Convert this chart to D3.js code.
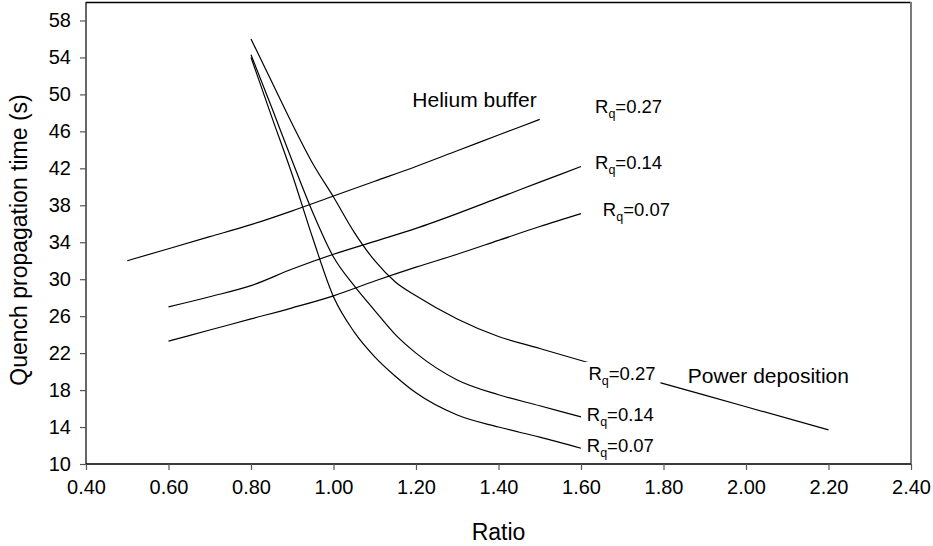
<!DOCTYPE html>
<html>
<head>
<meta charset="utf-8">
<script src="https://cdn.jsdelivr.net/npm/d3@7"></script>
<style>
  html, body { margin: 0; padding: 0; background: #fff; }
  svg { display: block; font-family: "Liberation Sans", Arial, sans-serif; }
</style>
</head>
<body>
<svg id="chart" width="933" height="546"></svg>
<script>
// Helium buffer curves (rising)
const heliumRatio027 = [0.5, 0.6, 0.7, 0.8, 0.9, 1.0, 1.1, 1.2, 1.3, 1.4, 1.5];
const heliumTime027  = [32.0, 33.3, 34.6, 35.9, 37.4, 39.0, 40.6, 42.2, 43.9, 45.6, 47.3];
const heliumRatio    = [0.6, 0.7, 0.8, 0.9, 1.0, 1.1, 1.2, 1.3, 1.4, 1.5, 1.6];
const heliumTime014  = [27.0, 28.1, 29.3, 31.1, 32.7, 34.1, 35.5, 37.1, 38.8, 40.5, 42.2];
const heliumTime007  = [23.3, 24.5, 25.7, 26.9, 28.2, 29.8, 31.3, 32.7, 34.2, 35.7, 37.1];

// Power deposition curves (falling)
const powerRatio027 = [0.8, 0.85, 0.9, 0.95, 1.0, 1.05, 1.1, 1.15, 1.2, 1.3, 1.4, 1.5, 1.6, 1.8, 2.0, 2.2];
const powerTime027  = [56.0, 51.4, 46.8, 42.5, 38.9, 35.1, 32.0, 29.7, 28.2, 25.7, 23.8, 22.5, 21.2, 18.7, 16.2, 13.7];
const powerRatio    = [0.8, 0.85, 0.9, 0.95, 1.0, 1.05, 1.1, 1.15, 1.2, 1.3, 1.4, 1.5, 1.6];
const powerTime014  = [54.3, 48.6, 42.8, 37.2, 32.4, 29.3, 26.6, 24.0, 22.0, 19.1, 17.5, 16.3, 15.1];
const powerTime007  = [54.0, 47.6, 41.3, 34.4, 28.1, 24.3, 21.6, 19.5, 17.7, 15.3, 14.0, 12.9, 11.7];

// Axis ticks
const xTicks = [0.4, 0.6, 0.8, 1.0, 1.2, 1.4, 1.6, 1.8, 2.0, 2.2, 2.4];
const yTicks = [10, 14, 18, 22, 26, 30, 34, 38, 42, 46, 50, 54, 58];

// Curve labels: Rq value, text anchor (left, baseline) in data units
const curveLabels = [
  { q: "0.27", at: [1.634, 48.0] },
  { q: "0.14", at: [1.634, 41.9] },
  { q: "0.07", at: [1.653, 36.85] },
  { q: "0.27", at: [1.618, 19.1], masked: true },
  { q: "0.14", at: [1.614, 14.6] },
  { q: "0.07", at: [1.614, 11.25] }
];
const groupLabels = [
  { text: "Helium buffer",    at: [1.191, 48.67] },
  { text: "Power deposition", at: [1.859, 18.8] }
];

const svg = d3.select("#chart");
const plotLeft = 86, plotRight = 911, plotTop = 2, plotBottom = 464;

const x = d3.scaleLinear().domain([0.4, 2.4]).range([plotLeft, plotRight]);
const y = d3.scaleLinear().domain([10, 60]).range([plotBottom, plotTop]);

// Plot frame: top and right edges
svg.append("line").attr("x1", plotLeft).attr("x2", plotRight).attr("y1", plotTop + 0.5).attr("y2", plotTop + 0.5)
  .attr("stroke", "#000").attr("stroke-width", 1.6);
svg.append("line").attr("x1", plotRight).attr("x2", plotRight).attr("y1", plotTop).attr("y2", plotBottom)
  .attr("stroke", "#7a7a7a").attr("stroke-width", 2);

// Axes
const xAxis = d3.axisBottom(x).tickValues(xTicks).tickFormat(d3.format(".2f")).tickSizeOuter(0).tickSize(6).tickPadding(10);
const yAxis = d3.axisLeft(y).tickValues(yTicks).tickFormat(d3.format("d")).tickSizeOuter(0).tickSize(6).tickPadding(9);

const gx = svg.append("g").attr("transform", `translate(0,${plotBottom})`).call(xAxis);
gx.select(".domain").attr("stroke", "#3a3a3a").attr("stroke-width", 2).attr("d", `M${plotLeft},0H${plotRight}`);
gx.selectAll(".tick line").attr("stroke", "#555").attr("stroke-width", 1.2);
gx.selectAll(".tick text").attr("font-size", 20).attr("fill", "#000")
  .attr("font-family", "Liberation Sans, Arial, sans-serif");

const gy = svg.append("g").attr("transform", `translate(${plotLeft},0)`).call(yAxis);
gy.select(".domain").attr("stroke", "#000").attr("stroke-width", 1.2).attr("d", `M0,${plotTop}V${plotBottom}`);
gy.selectAll(".tick line").attr("stroke", "#555").attr("stroke-width", 1.2);
gy.selectAll(".tick text").attr("font-size", 20).attr("fill", "#000")
  .attr("font-family", "Liberation Sans, Arial, sans-serif");

// Axis titles
svg.append("text").attr("x", (plotLeft + plotRight) / 2).attr("y", 540)
  .attr("text-anchor", "middle").attr("font-size", 23).text("Ratio");
svg.append("text").attr("transform", `translate(27,${(plotTop + plotBottom) / 2 + 7}) rotate(-90)`)
  .attr("text-anchor", "middle").attr("font-size", 23).text("Quench propagation time (s)");

// Curves
const series = [
  [heliumRatio027, heliumTime027],
  [heliumRatio, heliumTime014],
  [heliumRatio, heliumTime007],
  [powerRatio027, powerTime027],
  [powerRatio, powerTime014],
  [powerRatio, powerTime007]
];
const line = d3.line().x(d => x(d[0])).y(d => y(d[1])).curve(d3.curveMonotoneX);
svg.append("g").selectAll("path").data(series).join("path")
  .attr("d", s => line(d3.zip(s[0], s[1])))
  .attr("fill", "none").attr("stroke", "#000").attr("stroke-width", 1.2);

// Curve labels (R with subscript q); one sits on an opaque box over its curve
const lab = svg.append("g").selectAll("g").data(curveLabels).join("g")
  .attr("transform", d => `translate(${x(d.at[0])},${y(d.at[1])})`);
lab.filter(d => d.masked).append("rect")
  .attr("x", -4).attr("y", -18).attr("width", 76).attr("height", 26).attr("fill", "#fff");
const t = lab.append("text").attr("font-size", 18.5);
t.append("tspan").text("R");
t.append("tspan").attr("font-size", 12.5).attr("dy", 5).text("q");
t.append("tspan").attr("dy", -5).text(d => "=" + d.q);

// Group labels
svg.append("g").selectAll("text").data(groupLabels).join("text")
  .attr("x", d => x(d.at[0])).attr("y", d => y(d.at[1]))
  .attr("font-size", 21).text(d => d.text);
</script>
</body>
</html>
